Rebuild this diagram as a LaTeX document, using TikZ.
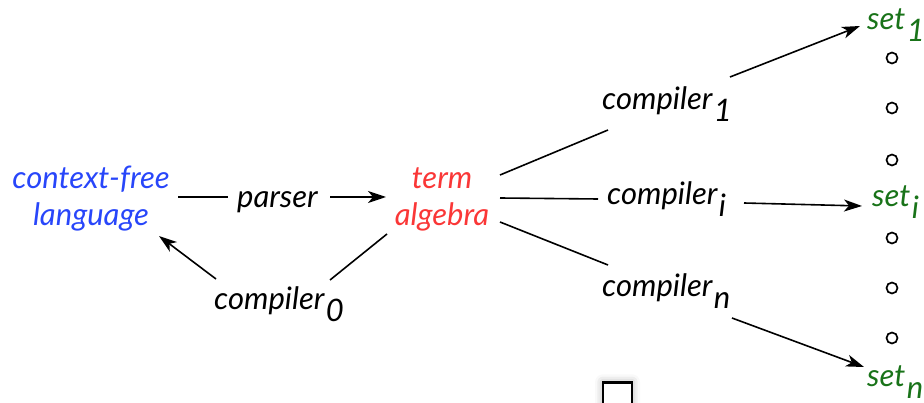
\documentclass[tikz,border=0pt]{standalone}
\usepackage{fontspec}
\setmainfont{Lato}
\usetikzlibrary{arrows.meta,calc,shadows.blur}
\definecolor{cfblue}{RGB}{40,70,250}
\definecolor{tred}{RGB}{250,55,55}
\definecolor{sgreen}{RGB}{25,115,25}
\newcommand{\lowsub}[1]{\kern1.5pt\raisebox{-0.36em}{#1}}
\begin{document}
\begin{tikzpicture}[x=1pt,y=-1pt,
  lbl/.style={font=\fontsize{31}{37}\selectfont\itshape, inner sep=0pt, align=center},
  arr/.style={-{Stealth[length=18pt,width=12pt,inset=5pt]}, line width=1.6pt},
  ln/.style={line width=1.6pt},
  dot/.style={circle, draw, line width=1.7pt, minimum size=11pt, inner sep=0pt}]
\useasboundingbox (0,0) rectangle (924,403);
\node[lbl,text=cfblue] (cfl) at (91,199) {context-free\\language};
\node[lbl,text=tred] (term) at (442,199) {term\\algebra};
\node[lbl,anchor=base west] (parser) at (237,208) {parser};
\node[lbl,anchor=base west] (c0) at (214,310) {compiler\lowsub{0}};
\node[lbl,anchor=base west] (c1) at (602,110) {compiler\lowsub{1}};
\node[lbl,anchor=base west] (ci) at (607,205) {compiler\lowsub{i}};
\node[lbl,anchor=base west] (cn) at (602,297) {compiler\lowsub{n}};
\node[lbl,anchor=base west,text=sgreen] (s1) at (867,30) {set\lowsub{1}};
\node[lbl,anchor=base west,text=sgreen] (si) at (872,207) {set\lowsub{i}};
\node[lbl,anchor=base west,text=sgreen] (sn) at (867,387) {set\lowsub{n}};
\foreach \y/\n in {58/1,108/2,160/3,238/4,288/5,338/6}
  \node[dot] (d\n) at (892,\y) {};
\node[draw, line width=2.5pt, fill=white, minimum width=29pt, minimum height=30pt, anchor=north,
  blur shadow={shadow xshift=0pt, shadow yshift=0pt, shadow blur radius=8pt, shadow opacity=35}] (box) at (617.5,381) {};
% connectors
\draw[ln] ($(cfl)+(87,-2)$) -- ($(parser.base west)+(-9,-11)$);
\draw[arr] ($(parser.base west)+(93,-11)$) -- ($(term)+(-56,-2)$);
\draw[arr] ($(c0.base west)+(2,-31)$) -- ($(cfl)+(68,37)$);
\draw[ln] ($(c0.base west)+(116,-30)$) -- ($(term)+(-55,35)$);
\draw[ln] ($(term)+(58,-24)$) -- ($(c1.base west)+(6,20)$);
\draw[ln] ($(term)+(58,-1)$) -- ($(ci.base west)+(-9,-6)$);
\draw[ln] ($(term)+(58,23)$) -- ($(cn.base west)+(6,-32)$);
\draw[arr] ($(c1.base west)+(128,-33)$) -- ($(s1.base west)+(-7,-4)$);
\draw[arr] ($(ci.base west)+(137,-2)$) -- ($(si.base west)+(-10,-1)$);
\draw[arr] ($(cn.base west)+(130,21)$) -- ($(sn.base west)+(-3,-20)$);
\end{tikzpicture}
\end{document}
